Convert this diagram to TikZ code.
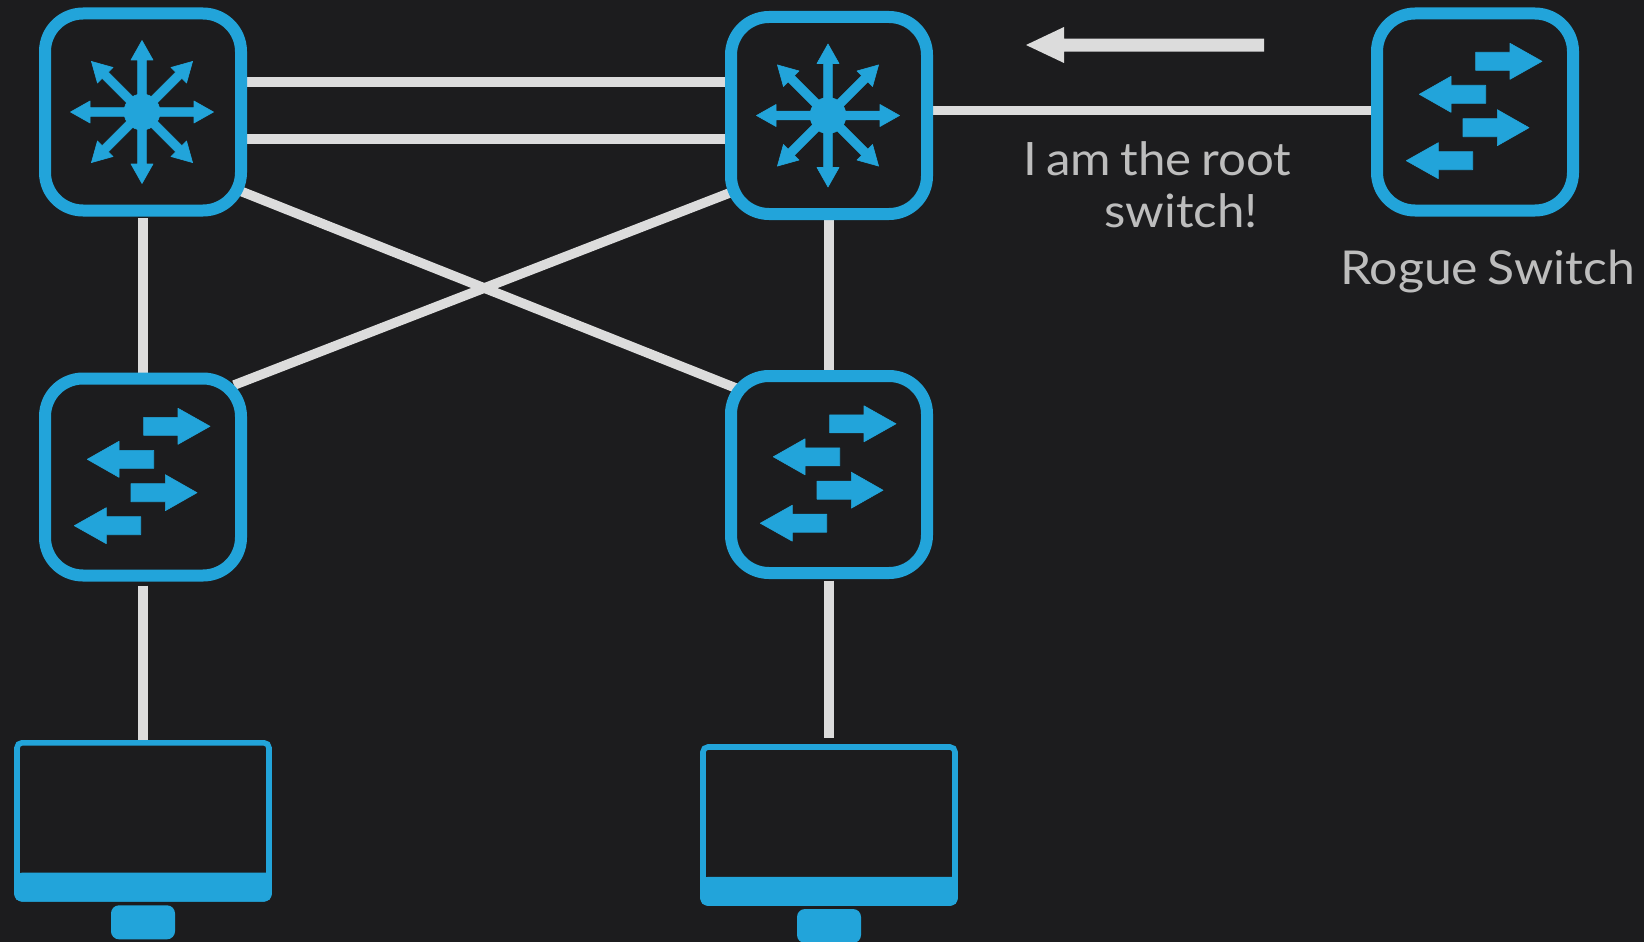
\documentclass[tikz,border=0pt]{standalone}
\usepackage{fontspec}
\setmainfont{Lato}[FakeStretch=1.07,WordSpace=0.75]
\usetikzlibrary{backgrounds}
\definecolor{bgc}{HTML}{1C1C1E}
\definecolor{bluec}{HTML}{22A4DA}
\definecolor{linec}{HTML}{DCDCDC}
\definecolor{textc}{HTML}{BDBDBD}
\tikzset{
  device/.style={draw=bluec,fill=bgc,line width=12pt,minimum width=196pt,minimum height=197pt,inner sep=0pt,rounded corners=38pt},
  screen/.style={draw=bluec,fill=bgc,line width=5.6pt,minimum width=252pt,minimum height=156pt,inner sep=0pt,rounded corners=5pt},
  stand/.style={fill=bluec,minimum width=64pt,minimum height=34pt,inner sep=0pt,rounded corners=8pt},
  link/.style={draw=linec,line width=9.6pt},
  icon/.style={fill=bluec,draw=bluec,line width=0.6pt,line join=round},
  label/.style={text=textc,font=\fontsize{46}{52}\selectfont,inner sep=0pt,anchor=base west}
}
\newcommand{\coreicon}[2]{%
  \begin{scope}[shift={(#1,#2)}]
    \fill[icon] (0,0) circle (18);
    \foreach \a in {0,45,...,315}{
      \fill[icon,rotate=\a] (0,-4.4) -- (52,-4.4) -- (52,-11) -- (71.5,0) -- (52,11) -- (52,4.4) -- (0,4.4) -- cycle;
    }
  \end{scope}}
\newcommand{\rarrowicon}[4]{% tail, base, tip, y
  \fill[icon] (#1,#4-9) -- (#2,#4-9) -- (#2,#4-18) -- (#3,#4) -- (#2,#4+18) -- (#2,#4+9) -- (#1,#4+9) -- cycle;}
\newcommand{\switchicon}[2]{%
  \begin{scope}[shift={(#1,#2)}]
    \rarrowicon{0.7}{35}{67}{-50.7}
    \rarrowicon{10.7}{-24}{-55.7}{-17.7}
    \rarrowicon{-12}{22.3}{54}{15.7}
    \rarrowicon{-2.3}{-36.7}{-68.7}{48.7}
  \end{scope}}
\begin{document}
\begin{tikzpicture}[x=1pt,y=-1pt]
\useasboundingbox (0,0) rectangle (1644,942);
% devices
\node[device] (core1) at (143,112) {};
\node[device] (core2) at (829,115.5) {};
\node[device] (rogue) at (1475,112) {};
\node[device] (acc1) at (143,477) {};
\node[device] (acc2) at (829,474.5) {};
\node[screen] (mon1) at (143,820.8) {};
\node[screen] (mon2) at (829,825) {};
\node[stand] (st1) at (143,922.3) {};
\node[stand] (st2) at (829,926) {};
% monitor chins
\fill[bluec,rounded corners=8pt] (mon1.south west) -- ++(0,-29) [sharp corners] -- ++(257.6,0) [rounded corners=8pt] -- (mon1.south east) -- cycle;
\fill[bluec,rounded corners=8pt] (mon2.south west) -- ++(0,-29) [sharp corners] -- ++(257.6,0) [rounded corners=8pt] -- (mon2.south east) -- cycle;
% icons
\coreicon{142}{112}
\coreicon{828}{115.5}
\switchicon{143}{477}
\switchicon{829}{474.5}
\switchicon{1475}{112}
% text
\node[label] (t1) at (1023,175.7) {I am the root};
\node[label] (t2) at (1104,227) {switch!};
\node[label,font=\fontsize{46.7}{52}\selectfont] (t3) at (1340,284) {Rogue Switch};
% big arrow
\fill[linec] (1264,38.7) -- (1064,38.7) -- (1064,27) -- (1026,45) -- (1064,63) -- (1064,51.7) -- (1264,51.7) -- cycle;
% connectors
\begin{pgfonlayer}{background}
\fill[bgc] (0,0) rectangle (1644,942);
\draw[link] ([yshift=30pt]core1.east) -- ([yshift=33.5pt]core2.west);
\draw[link] ([yshift=-27pt]core1.east) -- ([yshift=-23.5pt]core2.west);
\draw[link] ([yshift=5pt]core2.east) -- ([yshift=1.5pt]rogue.west);
\draw[link] ([shift={(-8,-26)}]core1.south east) -- ([shift={(12,18.5)}]acc2.north west);
\draw[link] ([shift={(-13,12.6)}]acc1.north east) -- ([shift={(7,-28)}]core2.south west);
\draw[link,shorten <=1.5pt] (core1.south) -- (acc1.north);
\draw[link,shorten <=0pt] (core2.south) -- (acc2.north);
\draw[link,shorten <=4pt] (acc1.south) -- (mon1.north);
\draw[link,shorten <=1.5pt,shorten >=6pt] (acc2.south) -- (mon2.north);
\end{pgfonlayer}
\end{tikzpicture}
\end{document}
